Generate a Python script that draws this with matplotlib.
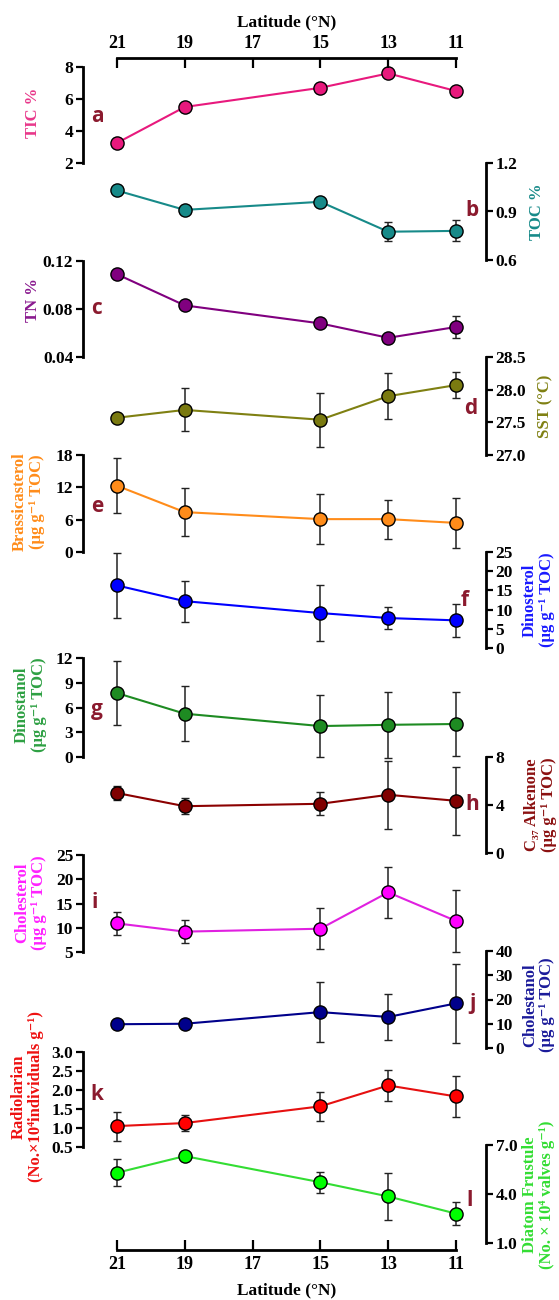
import matplotlib
matplotlib.use("Agg")
import matplotlib.pyplot as plt

# latitude of the sampling stations
lat = [21, 19, 15, 13, 11]
lat_ticks = [21, 19, 17, 15, 13, 11]

tic = [3.25, 5.5, 6.7, 7.6, 6.5]
tic_err = [0.1, 0.1, 0.1, 0.1, 0.1]
toc = [1.03, 0.91, 0.96, 0.775, 0.78]
toc_err = [0.015, 0.01, 0.015, 0.06, 0.065]
tn = [0.109, 0.083, 0.068, 0.056, 0.065]
tn_err = [0.002, 0.003, 0.002, 0.002, 0.009]
sst = [27.57, 27.69, 27.54, 27.9, 28.07]
sst_err = [0.03, 0.33, 0.41, 0.35, 0.2]
brassicasterol = [12.3, 7.4, 6.1, 6.1, 5.4]
brassicasterol_err = [5.1, 4.45, 4.6, 3.6, 4.7]
dinosterol = [16.3, 12.2, 9.1, 7.8, 7.2]
dinosterol_err = [8.4, 5.3, 7.2, 2.9, 4.3]
dinostanol = [7.75, 5.25, 3.75, 3.9, 4.0]
dinostanol_err = [3.9, 3.3, 3.8, 4.0, 3.9]
alkenone = [5.0, 3.9, 4.1, 4.85, 4.35]
alkenone_err = [0.6, 0.65, 0.95, 2.85, 2.85]
cholesterol = [10.9, 9.2, 9.8, 17.3, 11.4]
cholesterol_err = [2.4, 2.3, 4.2, 5.3, 6.3]
cholestanol = [9.8, 10.0, 14.8, 12.8, 18.4]
cholestanol_err = [1.5, 1.5, 12.3, 9.4, 16.3]
radiolarian = [1.05, 1.13, 1.57, 2.12, 1.83]
radiolarian_err = [0.38, 0.2, 0.39, 0.4, 0.55]
diatom = [5.3, 6.32, 4.72, 3.85, 2.8]
diatom_err = [0.83, 0.15, 0.65, 1.45, 0.71]

W, H = 559, 1300
SERIF = ["Liberation Serif", "DejaVu Serif"]
LETTER_COLOR = "#8b1a2e"

fig = plt.figure(figsize=(W / 100, H / 100), dpi=100)

X_LEFT, X_RIGHT = 83, 486
XLIM = (22.0, 10.115)


def fx(px):
    return px / W


def fy(py):
    return 1 - py / H


def panel(top, bottom, side, vals, errs, ylim, ticks, fmt, color, mcolor=None):
    ax = fig.add_axes([fx(X_LEFT), fy(bottom), fx(X_RIGHT - X_LEFT), (bottom - top) / H])
    ax.patch.set_visible(False)
    ax.set_xlim(*XLIM)
    ax.set_ylim(*ylim)
    for s in ["top", "bottom", "left", "right"]:
        ax.spines[s].set_visible(s == side)
    ax.spines[side].set_linewidth(2)
    ax.set_xticks([])
    ax.set_yticks(ticks)
    ax.set_yticklabels([fmt.format(t) for t in ticks], fontfamily=SERIF,
                       fontweight="bold", fontsize=12.5)
    ax.tick_params(axis="y", length=5, width=1.6, pad=2,
                   left=(side == "left"), labelleft=(side == "left"),
                   right=(side == "right"), labelright=(side == "right"))
    ax.errorbar(lat, vals, yerr=errs, color=color, lw=1.5, marker="o", ms=9.5,
                mfc=mcolor or color, mec="black", mew=1, ecolor="#222222",
                elinewidth=1.1, capsize=3, capthick=1.1, clip_on=False, zorder=3)
    return ax


panel(67, 163, "left", tic, tic_err, (2, 8), [2, 4, 6, 8], "{:g}", "#e8197d")
panel(163, 260, "right", toc, toc_err, (0.6, 1.2), [0.6, 0.9, 1.2], "{:.1f}", "#178a89")
panel(261, 357, "left", tn, tn_err, (0.04, 0.12), [0.04, 0.08, 0.12], "{:.2f}", "#80007f")
panel(357, 455, "right", sst, sst_err, (27.0, 28.5), [27.0, 27.5, 28.0, 28.5], "{:.1f}",
      "#7f8012", "#7a7a10")
panel(455, 552, "left", brassicasterol, brassicasterol_err, (0, 18), [0, 6, 12, 18], "{:g}",
      "#ff8c1a")
panel(552, 648, "right", dinosterol, dinosterol_err, (0, 25), [0, 5, 10, 15, 20, 25], "{:g}",
      "#0000ff")
panel(658, 757, "left", dinostanol, dinostanol_err, (0, 12), [0, 3, 6, 9, 12], "{:g}",
      "#1e8b22", "#1e8b22")
panel(757, 853, "right", alkenone, alkenone_err, (0, 8), [0, 4, 8], "{:g}", "#8b0000",
      "#800000")
panel(855, 952, "left", cholesterol, cholesterol_err, (5, 25), [5, 10, 15, 20, 25], "{:g}",
      "#e020e0", "#ff00ff")
panel(951, 1048, "right", cholestanol, cholestanol_err, (0, 40), [0, 10, 20, 30, 40], "{:g}",
      "#00008b")
panel(1052, 1147, "left", radiolarian, radiolarian_err, (0.5, 3.0),
      [0.5, 1.0, 1.5, 2.0, 2.5, 3.0], "{:.1f}", "#e61010", "#ff0000")
panel(1145, 1243, "right", diatom, diatom_err, (1.0, 7.0), [1.0, 4.0, 7.0], "{:.1f}",
      "#33dd33", "#00ff00")

# latitude frame (top and bottom axes)
frame = fig.add_axes([fx(X_LEFT), fy(1250), fx(X_RIGHT - X_LEFT), (1250 - 58) / H])
frame.patch.set_visible(False)
frame.set_xlim(*XLIM)
frame.set_yticks([])
for s in ["left", "right"]:
    frame.spines[s].set_visible(False)
for s in ["top", "bottom"]:
    frame.spines[s].set_bounds(11, 21)
    frame.spines[s].set_linewidth(2)
frame.set_xticks(lat_ticks)
frame.set_xticklabels([str(t) for t in lat_ticks], fontfamily=SERIF, fontweight="bold",
                      fontsize=13)
frame.tick_params(axis="x", direction="in", length=7, width=1.6, pad=4,
                  top=True, labeltop=True, bottom=True, labelbottom=True)
fig.text(fx(287), fy(22), "Latitude (°N)", ha="center", va="center", family=SERIF,
         fontweight="bold", fontsize=12.5)
fig.text(fx(287), fy(1290), "Latitude (°N)", ha="center", va="center", family=SERIF,
         fontweight="bold", fontsize=12.5)

# axis titles
labels = [
    (33, 113, ["TIC %"], "#e8378a"),
    (537, 212, ["TOC %"], "#178a89"),
    (33, 300, ["TN %"], "#8a1a8f"),
    (545, 406, ["SST (°C)"], "#7f8012"),
    (20, 502, ["Brassicasterol", "(µg g⁻¹ TOC)"], "#ff8c1a"),
    (530, 600, ["Dinosterol", "(µg g⁻¹ TOC)"], "#1a1aff"),
    (22, 705, ["Dinostanol", "(µg g⁻¹ TOC)"], "#2ea043"),
    (532, 805, ["C₃₇ Alkenone", "(µg g⁻¹ TOC)"], "#8b1010"),
    (22, 903, ["Cholesterol", "(µg g⁻¹ TOC)"], "#ff22ff"),
    (530, 1005, ["Cholestanol", "(µg g⁻¹ TOC)"], "#1a1a9a"),
    (19, 1097, ["Radiolarian", "(No.×10⁴individuals g⁻¹)"], "#ee1111"),
    (530, 1195, ["Diatom Frustule", "(No. × 10⁴ valves g⁻¹)"], "#33dd33"),
]
for px, py, lines, col in labels:
    for k, line in enumerate(lines):
        fig.text(fx(px + 17 * k), fy(py), line, rotation=90, ha="center", va="center",
                 family=SERIF, fontweight="bold", fontsize=12, color=col)

# panel letters
letters = [("a", 97, 117), ("b", 472, 211), ("c", 97, 309), ("d", 471, 409),
           ("e", 97, 506), ("f", 465, 600), ("g", 97, 709), ("h", 472, 805),
           ("i", 95, 903), ("j", 472, 1003), ("k", 97, 1095), ("l", 470, 1200)]
for ch, px, py in letters:
    fig.text(fx(px), fy(py), ch, ha="center", va="center", family="Open Sans",
             fontweight="bold", fontsize=15, color=LETTER_COLOR)

fig.savefig("out.png", dpi=100)
